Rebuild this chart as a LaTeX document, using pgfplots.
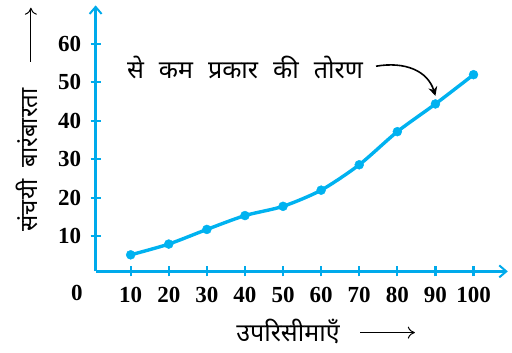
\documentclass[border=0pt]{standalone}
\usepackage{pgfplots}
\pgfplotsset{compat=1.18}
\usepackage{fontspec}
\setmainfont{Liberation Serif}
\newfontfamily\dev[Script=Devanagari]{Noto Sans}
\usetikzlibrary{arrows.meta}
\definecolor{axblue}{RGB}{0,170,235}
\definecolor{lncyan}{RGB}{0,178,240}

\begin{document}
\begin{tikzpicture}
\begin{axis}[
    x=3.81pt, y=3.85pt,
    xmin=0.8, xmax=109, ymin=0.9, ymax=70,
    axis lines=left,
    axis line style={axblue, line width=2.4pt, -{Straight Barb[length=7pt,width=12pt,line width=2pt]}},
    xtick={10,20,...,100}, ytick={10,20,...,60},
    tick align=center, major tick length=10pt,
    tick style={axblue, line width=2.2pt},
    /pgf/number format/assume math mode=true,
    xticklabel style={font=\fontsize{23}{24}\selectfont\bfseries, anchor=center, yshift=-19pt},
    yticklabel style={font=\fontsize{23}{24}\selectfont\bfseries, anchor=east, xshift=-6pt},
    clip=false,
]
\addplot[lncyan, line width=3.4pt, smooth, tension=0.45, mark=*, mark size=4.5pt,
    mark options={fill=lncyan, draw=lncyan, line width=0.4pt}]
  coordinates {(10,5.2) (20,8) (30,11.8) (40,15.4) (50,17.8) (60,22) (70,28.6) (80,37.2) (90,44.4) (100,52)};

\node[font=\dev\fontsize{23}{24}\selectfont\bfseries] at (axis cs:-4.1,-4.6) {};
\node[font=\fontsize{23}{24}\selectfont\bfseries] at (axis cs:-4.1,-4.6) {0};
\node[font=\dev\fontsize{25}{28}\selectfont] at (axis cs:40,53.8) {\spaceskip=15pt से कम प्रकार की तोरण};
\draw[black, line width=1.6pt, -{Stealth[length=9pt,width=9pt]}] (axis cs:74.4,54.2) .. controls (axis cs:82,55.5) and (axis cs:88,53) .. (axis cs:90,46.5);
\node[font=\dev\fontsize{24}{28}\selectfont, rotate=90] at (axis cs:-17.2,29.9) {\spaceskip=12pt संचयी बारंबारता};
\draw[black, line width=1pt, -{To[length=7pt,width=12pt]}] (axis cs:-16.2,55.3) -- (axis cs:-16.2,69.4);
\node[font=\dev\fontsize{25}{28}\selectfont] at (axis cs:51.3,-14.8) {उपरिसीमाएँ};
\draw[black, line width=1pt, -{To[length=7pt,width=12pt]}] (axis cs:70.2,-15) -- (axis cs:84.6,-15);

\coordinate (bl) at (axis cs:-24.3,-20.26);
\coordinate (tr) at (axis cs:110.1,71.4);
\end{axis}
\pgfresetboundingbox
\useasboundingbox (bl) rectangle (tr);
\end{tikzpicture}
\end{document}
